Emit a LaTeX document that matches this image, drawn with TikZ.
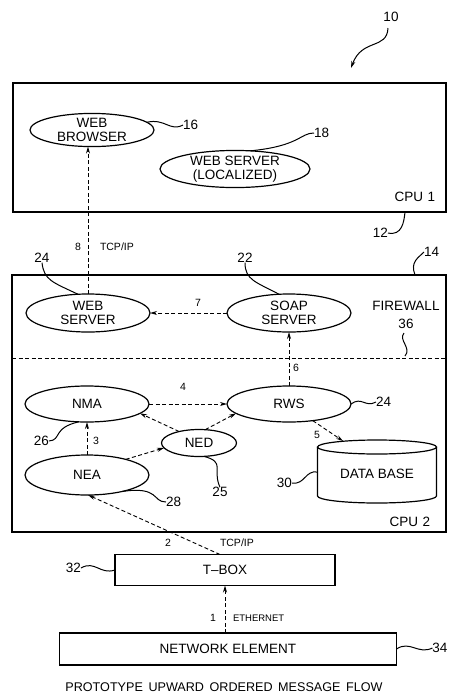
\documentclass[tikz,border=0pt]{standalone}
\usepackage{fontspec}
\setmainfont{Liberation Sans}
\usetikzlibrary{arrows.meta,shapes.geometric}
\begin{document}
\begin{tikzpicture}[x=1pt,y=-1pt,
  every node/.style={inner sep=0pt,outer sep=0pt},
  ell/.style={draw,ellipse,line width=1.2pt,align=center,font=\fontsize{13.5}{14}\selectfont},
  boxnode/.style={draw,rectangle,line width=1.2pt,font=\fontsize{13.5}{14}\selectfont},
  frame/.style={draw,rectangle,line width=1.4pt},
  flow/.style={dashed,dash pattern=on 4pt off 2.5pt,line width=0.9pt,-{Stealth[length=7pt,width=4pt]}},
  lead/.style={line width=1pt},
  refnum/.style={font=\fontsize{13.5}{14}\selectfont},
  small/.style={font=\fontsize{10.5}{11}\selectfont},
  lbl/.style={font=\fontsize{13.5}{14}\selectfont}]
\useasboundingbox (0,0) rectangle (448,694);
% frames
\node[frame,minimum width=433pt,minimum height=129pt] (cpu1) at (229.5,147.5) {};
\node[frame,minimum width=434pt,minimum height=257pt] (cpu2) at (229,403.5) {};
\coordinate (fwl) at (12,358);
\coordinate (fwr) at (446,358);
\draw[dashed,dash pattern=on 4pt off 2.5pt,line width=0.9pt] (fwl) -- (fwr);
% ellipses
\node[ell,minimum width=124pt,minimum height=30pt] (wb) at (92,130) {WEB\\BROWSER};
\node[ell,minimum width=150pt,minimum height=35pt] (wsl) at (235,169) {WEB SERVER\\(LOCALIZED)};
\node[ell,minimum width=124pt,minimum height=38pt] (ws) at (88,313) {WEB\\SERVER};
\node[ell,minimum width=124pt,minimum height=38pt] (soap) at (289,313) {SOAP\\SERVER};
\node[ell,minimum width=124pt,minimum height=36pt] (nma) at (87,404) {NMA};
\node[ell,minimum width=124pt,minimum height=36pt] (rws) at (289,404) {RWS};
\node[ell,minimum width=75pt,minimum height=27pt] (ned) at (199,443) {NED};
\node[ell,minimum width=124pt,minimum height=40pt] (nea) at (87,475) {NEA};
% database cylinder
\node[minimum width=119pt,minimum height=63pt,font=\fontsize{13.5}{14}\selectfont] (db) at (377,474) {DATA BASE};
\draw[line width=1.2pt] (377,447) ellipse [x radius=59.5pt,y radius=7pt];
\draw[line width=1.2pt] (317.5,447) -- (317.5,496) arc[start angle=180,end angle=360,x radius=59.5pt,y radius=7pt] -- (436.5,447);
\coordinate (dbin) at (343,441);
% boxes
\node[boxnode,minimum width=220pt,minimum height=31pt] (tbox) at (225,570) {T--BOX};
\node[boxnode,minimum width=337pt,minimum height=32pt] (ne) at (228,649) {NETWORK ELEMENT};
% connectors
\draw[flow] (ws.north) -- (ws.north |- wb.south);
\draw[flow] (soap.west) -- (ws.east);
\draw[flow] (rws.north) -- (soap.south);
\draw[flow] (nma.east) -- (rws.west);
\draw[flow] (nea.north) -- (nma.south);
\draw[flow] (nea.22) -- (ned.188);
\draw[flow] (ned.150) -- (nma.-10);
\draw[flow] (ned.65) -- (rws.190);
\draw[flow] (rws.-35) -- (dbin);
\draw[flow] ([xshift=-5pt]tbox.north) -- (nea.-87);
\draw[flow] (tbox.south |- ne.north) -- (tbox.south);
% flow labels
\node[small] at (198,303) {7};
\node[small] at (78,247) {8};
\node[small,anchor=west] at (100,247) {TCP/IP};
\node[small] at (296,368) {6};
\node[small] at (183,387) {4};
\node[small] at (96,441) {3};
\node[small] at (317,435) {5};
\node[small] at (168,543) {2};
\node[small,anchor=west] at (220,543) {TCP/IP};
\node[small] at (213,618) {1};
\node[small,anchor=west,font=\fontsize{9.5}{10}\selectfont] at (233,618) {ETHERNET};
% frame labels
\node[lbl] at (415,197) {CPU\,\,1};
\node[lbl] at (410,522) {CPU\,\,2};
\node[lbl] at (406,306) {FIREWALL};
\node[refnum] at (406,324) {36};
% reference numerals and leaders
\node[refnum] (n10) at (391,17) {10};
\coordinate (a10) at (351,68);
\draw[lead,-{Stealth[length=7pt,width=4pt]}] (388,28) .. controls (387,50) and (362,38) .. (a10);
\node[refnum,anchor=west] (n16) at (183,125) {16};
\draw[lead] (wb.8) .. controls (165,118) and (170,132) .. (n16.west);
\node[refnum,anchor=west] (n18) at (314,133) {18};
\draw[lead] (wsl.50) .. controls (300,146) and (300,133) .. (n18.west);
\node[refnum,anchor=east] (n12) at (388,233) {12};
\draw[lead] (n12.east) .. controls (402,236) and (404,222) .. (405,212);
\node[refnum,anchor=west] (n14) at (424,252) {14};
\draw[lead] (415,275) .. controls (410,262) and (418,258) .. (n14.west);
\node[refnum] (n24a) at (42,258) {24};
\draw[lead] (ws.118) .. controls (52,282) and (44,280) .. (n24a.south);
\node[refnum] (n22) at (245,258) {22};
\draw[lead] (soap.118) .. controls (256,282) and (245,280) .. (n22.south);
\draw[lead] (404,333) .. controls (398,340) and (412,348) .. (405,356);
\node[refnum,anchor=west] (n24b) at (376,402) {24};
\draw[lead] (rws.east) .. controls (362,396) and (365,408) .. (n24b.west);
\node[refnum,anchor=east] (n26) at (49,441) {26};
\draw[lead] (nma.-115) .. controls (52,428) and (62,440) .. (n26.east);
\node[refnum,anchor=west] (n28) at (166,502) {28};
\draw[lead] (nea.-25) .. controls (160,486) and (152,502) .. (n28.west);
\node[refnum] (n25) at (220,492) {25};
\draw[lead] (ned.-70) .. controls (226,462) and (212,470) .. (n25.north);
\node[refnum,anchor=east] (n30) at (292,483) {30};
\draw[lead] (n30.east) .. controls (305,485) and (305,470) .. (317.5,472);
\node[refnum,anchor=east] (n32) at (81,568) {32};
\draw[lead] (n32.east) .. controls (95,560) and (100,575) .. (tbox.west);
\node[refnum,anchor=east] (n34) at (447.5,648) {34};
\draw[lead] (ne.east) .. controls (410,640) and (418,655) .. (n34.west);
% caption
\node[font=\fontsize{12.6}{14}\selectfont] (cap) at (224,687) {PROTOTYPE\, UPWARD\, ORDERED\, MESSAGE\, FLOW};
\end{tikzpicture}
\end{document}
